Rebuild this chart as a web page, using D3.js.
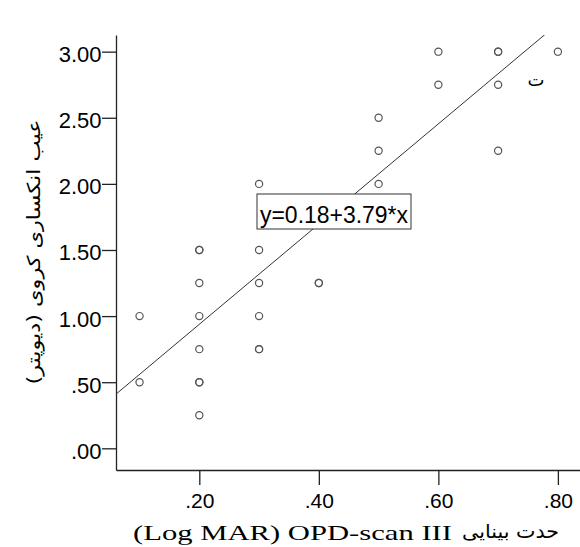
<!DOCTYPE html>
<html>
<head>
<meta charset="utf-8">
<script src="https://cdn.jsdelivr.net/npm/d3@7"></script>
<style>
  html, body { margin: 0; padding: 0; background: #fff; }
  svg { display: block; }
</style>
</head>
<body>
<svg id="chart" width="580" height="547"></svg>
<script>
// Visual acuity (Log MAR) against spherical refractive error (dioptres)
const acuity = [0.1, 0.1,
  0.2, 0.2, 0.2, 0.2, 0.2, 0.2, 0.2, 0.2,
  0.3, 0.3, 0.3, 0.3, 0.3, 0.3,
  0.4, 0.4,
  0.5, 0.5, 0.5,
  0.6, 0.6,
  0.7, 0.7, 0.7, 0.7,
  0.8];
const refraction = [1.00, 0.50,
  1.50, 1.50, 1.25, 1.00, 0.75, 0.50, 0.50, 0.25,
  2.00, 1.50, 1.25, 1.00, 0.75, 0.75,
  1.25, 1.25,
  2.50, 2.25, 2.00,
  3.00, 2.75,
  3.00, 3.00, 2.75, 2.25,
  3.00];

// Fitted line y = a + b*x
const intercept = 0.18;
const slope = 3.79;
const fitLabel = "y=0.18+3.79*x";

const xTicks = [0.2, 0.4, 0.6, 0.8];
const yTicks = [0, 0.5, 1.0, 1.5, 2.0, 2.5, 3.0];

const yTitle = "عیب انکساری کروی (دیوپتر)";
const xTitleLatin = "(Log MAR) OPD-scan III";
const xTitleFa = "حدت بینایی";

const svg = d3.select("#chart");
const plotL = 116, plotR = 580, plotT = 35, plotB = 470;

const x = d3.scaleLinear().domain([0.0606, 0.837]).range([plotL, plotR]);
const y = d3.scaleLinear().domain([-0.164, 3.126]).range([plotB, plotT]);

const fmt = v => d3.format(".2f")(v).replace(/^0/, "");
const sans = "'Liberation Sans', Arial, sans-serif";

// clip for the fit line
svg.append("defs").append("clipPath").attr("id", "plotArea")
  .append("rect").attr("x", plotL).attr("y", plotT)
  .attr("width", plotR - plotL).attr("height", plotB - plotT);

// axes
const yAxis = svg.append("g").attr("transform", `translate(${plotL},0)`)
  .call(d3.axisLeft(y).tickValues(yTicks).tickFormat(fmt)
    .tickSize(14).tickSizeOuter(0).tickPadding(0.5));
const xAxis = svg.append("g").attr("transform", `translate(0,${plotB})`)
  .call(d3.axisBottom(x).tickValues(xTicks).tickFormat(fmt)
    .tickSize(15).tickSizeOuter(0).tickPadding(8));

[yAxis, xAxis].forEach(g => {
  g.selectAll("path.domain").attr("stroke", "#222").attr("stroke-width", 1.3);
  g.selectAll(".tick line").attr("stroke", "#222").attr("stroke-width", 1.3);
  g.selectAll(".tick text").attr("fill", "#000")
    .style("font-family", sans).style("font-size", "21px");
});
yAxis.selectAll(".tick text").attr("dy", "0.45em").style("font-size", "22px");

// fit line
const fitData = x.domain().map(v => ({ x: v, y: intercept + slope * v }));
svg.append("path")
  .datum(fitData)
  .attr("clip-path", "url(#plotArea)")
  .attr("fill", "none").attr("stroke", "#333").attr("stroke-width", 1)
  .attr("d", d3.line().x(d => x(d.x)).y(d => y(d.y)));

// observations
svg.append("g").selectAll("circle")
  .data(acuity.map((a, i) => ({ a, r: refraction[i] })))
  .join("circle")
  .attr("cx", d => x(d.a)).attr("cy", d => y(d.r)).attr("r", 3.6)
  .attr("fill", "none").attr("stroke", "#555").attr("stroke-width", 1.2);

// equation label
const boxX = 257, boxY = 194, boxW = 154, boxH = 35;
svg.append("rect").attr("x", boxX).attr("y", boxY)
  .attr("width", boxW).attr("height", boxH)
  .attr("fill", "#fff").attr("stroke", "#333").attr("stroke-width", 1);
svg.append("text").attr("x", boxX + 3).attr("y", boxY + 29)
  .attr("textLength", 148).attr("lengthAdjust", "spacingAndGlyphs")
  .style("font-family", sans).style("font-size", "23px").text(fitLabel);

// stray glyph near the upper right
svg.append("text").attr("x", 536).attr("y", 86).attr("text-anchor", "middle")
  .style("font-family", "'DejaVu Sans', sans-serif").style("font-size", "18px")
  .text("ت");

// y title
svg.append("text")
  .attr("transform", "translate(40,252) rotate(-90)")
  .attr("text-anchor", "middle").attr("direction", "rtl")
  .attr("textLength", 265).attr("lengthAdjust", "spacingAndGlyphs")
  .style("font-family", "'DejaVu Sans', sans-serif").style("font-size", "18px")
  .text(yTitle);

// x title
svg.append("text").attr("x", 133).attr("y", 540)
  .attr("textLength", 319).attr("lengthAdjust", "spacingAndGlyphs")
  .style("font-family", "'Liberation Serif', 'Times New Roman', serif").style("font-size", "22px")
  .text(xTitleLatin);
svg.append("text").attr("x", 462).attr("y", 538)
  .attr("textLength", 97).attr("lengthAdjust", "spacingAndGlyphs")
  .attr("direction", "rtl").attr("text-anchor", "end")
  .style("font-family", "'DejaVu Sans', sans-serif").style("font-size", "19px")
  .text(xTitleFa);
</script>
</body>
</html>
